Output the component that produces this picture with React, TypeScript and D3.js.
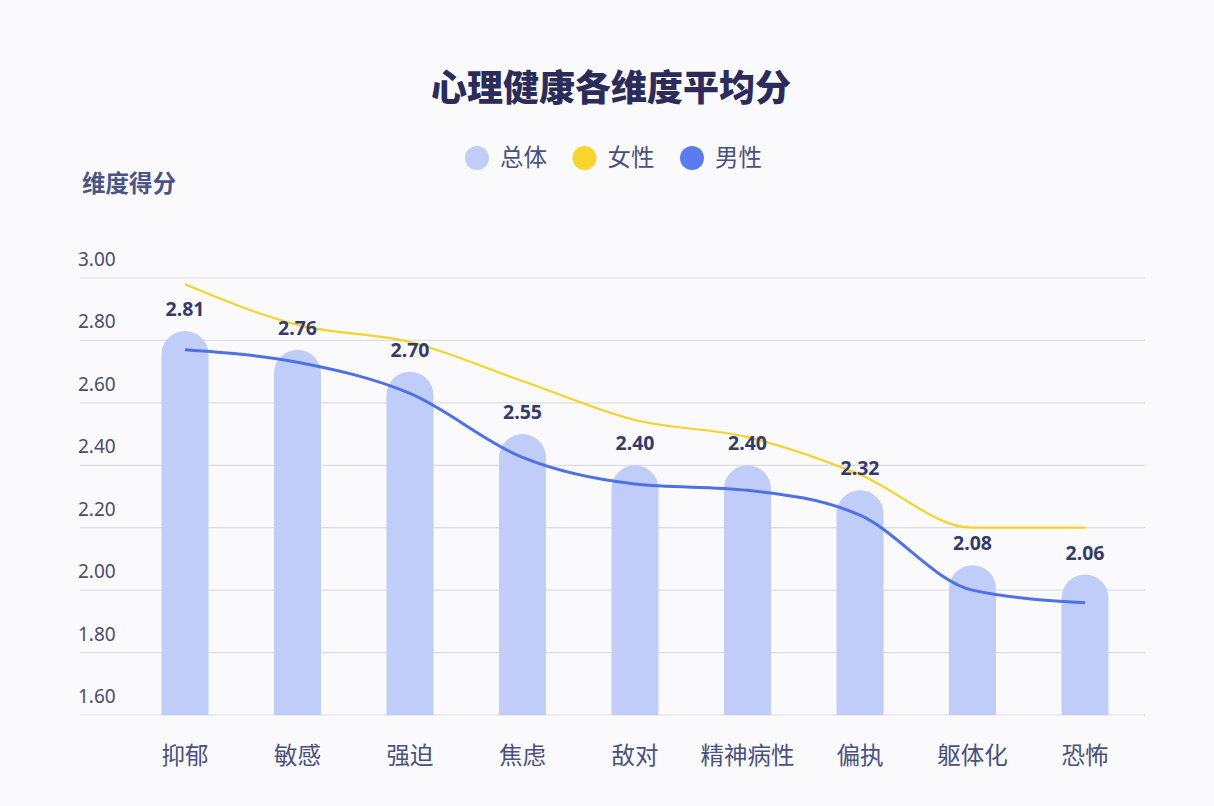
import React from 'react';
import * as d3 from 'd3';

// categories and values
const dimensions = ['抑郁', '敏感', '强迫', '焦虑', '敌对', '精神病性', '偏执', '躯体化', '恐怖'];
const totalLabels = ['2.81', '2.76', '2.70', '2.55', '2.40', '2.40', '2.32', '2.08', '2.06'];
const totalBars = [2.83, 2.77, 2.70, 2.50, 2.40, 2.40, 2.32, 2.08, 2.05];
const femaleScores = [2.98, 2.85, 2.795, 2.67, 2.545, 2.49, 2.37, 2.20, 2.20];
const maleScores = [2.77, 2.73, 2.63, 2.425, 2.34, 2.32, 2.24, 2.0, 1.96];
const yTicks = [1.6, 1.8, 2.0, 2.2, 2.4, 2.6, 2.8, 3.0];
const legendItems = [
  { name: '总体', color: '#c0cdf8' },
  { name: '女性', color: '#f8d52d' },
  { name: '男性', color: '#5b7cf0' },
];

const W = 1214;
const H = 806;
const CJK = '"Noto Sans CJK SC", "Noto Sans", sans-serif';
const NUM = '"Noto Sans", "Noto Sans CJK SC", sans-serif';

const App = () => {
  const x = d3.scaleBand<string>().domain(dimensions).range([128.75, 1141.25]);
  const y = d3.scaleLinear().domain([1.6, 3.0]).range([715, 278]);
  const barW = 47;
  const r = barW / 2;
  const cx = (d: string) => (x(d) as number) + x.bandwidth() / 2;

  const line = d3.line<number>()
    .x((_, i) => cx(dimensions[i]))
    .y(v => y(v))
    .curve(d3.curveMonotoneX);

  // bar with a round cap on top
  const barPath = (d: string, v: number) => {
    const x0 = cx(d) - r;
    const top = y(v);
    return `M${x0},${y(1.6)}L${x0},${top + r}A${r},${r} 0 0 1 ${x0 + barW},${top + r}L${x0 + barW},${y(1.6)}Z`;
  };

  return (
    <div style={{ position: 'absolute', left: 0, top: 0 }}>
      <svg width={W} height={H} style={{ display: 'block' }}>
        <rect width={W} height={H} fill="#fafafc" />

        {/* title */}
        <text x={611} y={101} textAnchor="middle" fontFamily={CJK} fontSize={36} fontWeight={900} fill="#2b2c5a">
          心理健康各维度平均分
        </text>

        {/* legend */}
        {legendItems.map((d, i) => {
          const lx = 477 + i * 107.5;
          return (
            <g key={d.name}>
              <circle cx={lx} cy={158} r={12} fill={d.color} />
              <text x={lx + 23} y={166} fontFamily={CJK} fontSize={23.5} fill="#4a5080">{d.name}</text>
            </g>
          );
        })}

        {/* y axis title */}
        <text x={82} y={192} fontFamily={CJK} fontSize={23.5} fontWeight={700} fill="#4a5488">维度得分</text>

        {/* grid + y labels */}
        {yTicks.map(t => (
          <g key={t}>
            <line x1={80} x2={1145} y1={y(t)} y2={y(t)} stroke="#dcdde6" strokeWidth={1.2} />
            <text x={78} y={y(t) - 12} fontFamily={NUM} fontSize={19} fill="#4a4e6e">{t.toFixed(2)}</text>
          </g>
        ))}

        {/* bars */}
        {dimensions.map((d, i) => (
          <path key={d} d={barPath(d, totalBars[i])} fill="#bfcdf8" />
        ))}

        {/* lines */}
        <path d={line(femaleScores) as string} fill="none" stroke="#f5d327" strokeWidth={2.2} />
        <path d={line(maleScores) as string} fill="none" stroke="#4c72e6" strokeWidth={3} />

        {/* data labels */}
        {dimensions.map((d, i) => (
          <text key={d} x={cx(d)} y={y(totalBars[i]) - 15} textAnchor="middle" fontFamily={NUM} fontSize={19.5} fontWeight={700} fill="#353a6c">
            {totalLabels[i]}
          </text>
        ))}

        {/* x labels */}
        {dimensions.map(d => (
          <text key={d} x={cx(d)} y={764} textAnchor="middle" fontFamily={CJK} fontSize={23.5} fill="#4a5080">{d}</text>
        ))}
      </svg>
    </div>
  );
};

export default App;
